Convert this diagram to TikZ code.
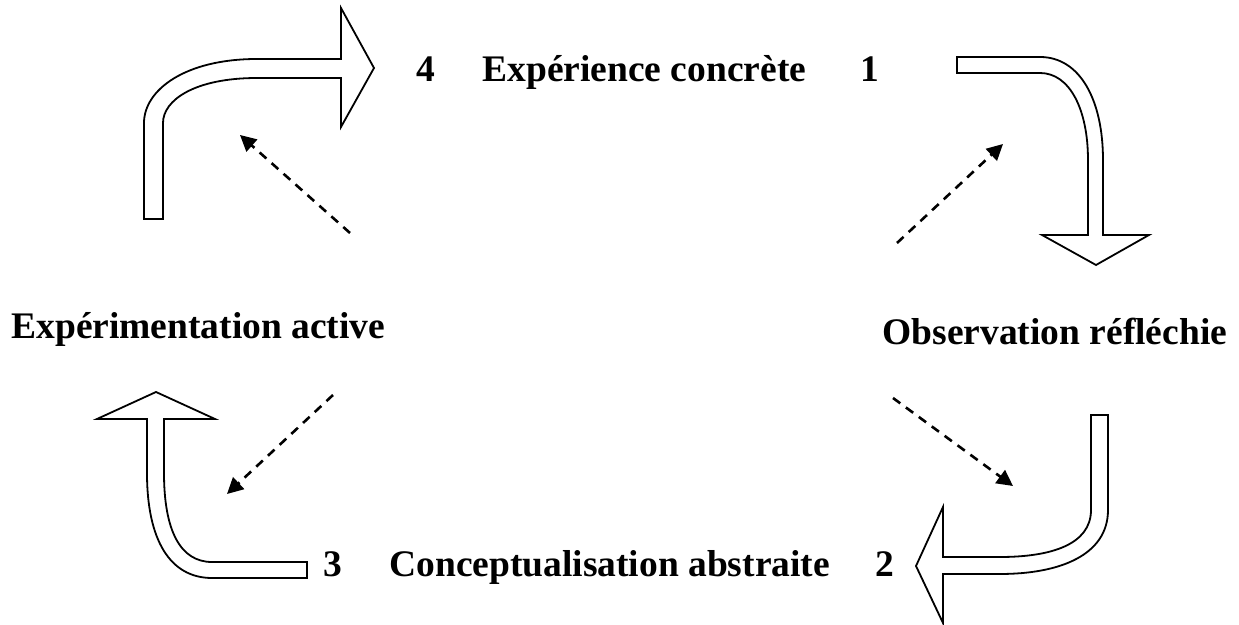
\documentclass[tikz,border=0pt]{standalone}
\usepackage{fontspec}
\setmainfont{Liberation Serif}
\usepackage{tikz}
\usetikzlibrary{arrows.meta,positioning}

\begin{document}
\begin{tikzpicture}[x=0.5pt,y=-0.5pt,
    phase/.style={anchor=base west,inner sep=0pt,font=\bfseries\fontsize{18.75}{22}\selectfont},
    bigarrow/.style={draw=black,fill=white,line width=0.9pt,line join=miter},
    hint/.style={line width=1.3pt,dash pattern=on 4.5pt off 3.5pt,-{Triangle[length=8pt,width=8pt]}}]
        \useasboundingbox (0,0) rectangle (1239,625);
        % labels of the cycle
        \node[phase] (n4) at (416,82) {4};
        \node[phase] (exp) at (482,82) {Expérience concrète};
        \node[phase] (n1) at (860,82) {1};
        \node[phase] (act) at (11,339) {Expérimentation active};
        \node[phase] (obs) at (882,345) {Observation réfléchie};
        \node[phase] (n3) at (323,577) {3};
        \node[phase] (conc) at (389,577) {Conceptualisation abstraite};
        \node[phase] (n2) at (875,577) {2};
        % bent block arrows
        \draw[bigarrow] (144,219) -- (144,123) .. controls (144,90) and (185,59) .. (257,59) -- (341,59)
          -- (341,8) -- (374,68) -- (341,127) -- (341,78) -- (257,78)
          .. controls (195,78) and (163,100) .. (163,123) -- (163,219) -- cycle;
        \draw[bigarrow] (957,57) -- (1040,57) .. controls (1080,57) and (1103,100) .. (1103,160) -- (1103,235)
          -- (1149,235) -- (1096,265) -- (1042,235) -- (1088,235) -- (1088,160)
          .. controls (1088,110) and (1070,73) .. (1040,73) -- (957,73) -- cycle;
        \draw[bigarrow] (1091,415) -- (1108,415) -- (1108,510) .. controls (1108,555) and (1060,574) .. (1000,574) -- (943,574)
          -- (943,623) -- (916,566) -- (943,507) -- (943,557) -- (1000,557)
          .. controls (1050,557) and (1091,545) .. (1091,510) -- cycle;
        \draw[bigarrow] (307,562) -- (307,578) -- (212,578) .. controls (170,578) and (147,540) .. (147,473) -- (147,419)
          -- (97,419) -- (156,392) -- (215,419) -- (164,419) -- (164,473)
          .. controls (164,530) and (180,562) .. (212,562) -- cycle;
        % dashed hints
        \coordinate (tlA) at (350,233); \coordinate (tlB) at (240,135);
        \coordinate (trA) at (897,243); \coordinate (trB) at (1003,144);
        \coordinate (blA) at (333,395); \coordinate (blB) at (227,494);
        \coordinate (brA) at (893,398); \coordinate (brB) at (1013,486);
        \draw[hint] (tlA) -- (tlB);
        \draw[hint] (trA) -- (trB);
        \draw[hint] (blA) -- (blB);
        \draw[hint] (brA) -- (brB);
      \end{tikzpicture}
\end{document}
